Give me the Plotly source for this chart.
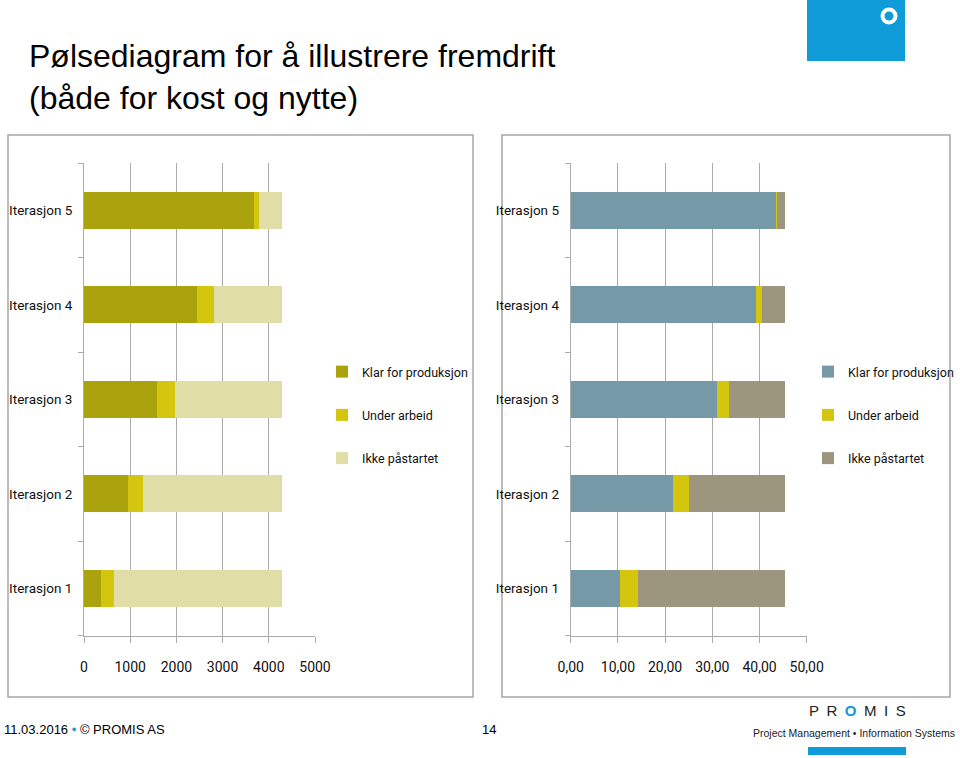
import plotly.graph_objects as go

# data
kategorier = ["Iterasjon 1", "Iterasjon 2", "Iterasjon 3", "Iterasjon 4", "Iterasjon 5"]
serier = ["Klar for produksjon", "Under arbeid", "Ikke påstartet"]

kost_klar = [368, 945, 1571, 2452, 3680]
kost_under = [282, 339, 399, 368, 100]
kost_ikke = [3640, 3006, 2320, 1470, 510]

nytte_klar = [10.4, 21.6, 31.1, 39.2, 43.5]
nytte_under = [3.9, 3.5, 2.4, 1.4, 0.3]
nytte_ikke = [31.0, 20.2, 11.8, 4.7, 1.5]

kost_ticks = [0, 1000, 2000, 3000, 4000, 5000]
nytte_ticks = [0, 10, 20, 30, 40, 50]

farger_kost = ["#ABA30E", "#D4C60E", "#E1DDA6"]
farger_nytte = ["#7699A7", "#D4C60E", "#9C967E"]

W, H = 960, 758
SMAL = "Liberation Sans Narrow, Arial Narrow, Roboto, sans-serif"
ARIAL = "Liberation Sans, Arial, sans-serif"


def px_x(v):
    return v / W


def px_y(v):
    return 1 - v / H


fig = go.Figure()

for navn, verdier, farge in zip(serier, [kost_klar, kost_under, kost_ikke], farger_kost):
    fig.add_trace(go.Bar(
        y=kategorier, x=verdier, name=navn, orientation="h",
        marker=dict(color=farge, line=dict(width=0)),
        xaxis="x", yaxis="y", legend="legend", legendgroup="k" + navn,
        width=0.39, hoverinfo="skip"))

for navn, verdier, farge in zip(serier, [nytte_klar, nytte_under, nytte_ikke], farger_nytte):
    fig.add_trace(go.Bar(
        y=kategorier, x=verdier, name=navn, orientation="h",
        marker=dict(color=farge, line=dict(width=0)),
        xaxis="x2", yaxis="y2", legend="legend2", legendgroup="n" + navn,
        width=0.39, hoverinfo="skip"))

akse_x = dict(
    showgrid=True, gridcolor="#ABABAB", gridwidth=1,
    showline=True, linecolor="#ABABAB", linewidth=1,
    ticks="outside", ticklen=6, tickcolor="#ABABAB",
    zeroline=False, tickfont=dict(family=SMAL, size=14, color="#111"),
    ticklabelstandoff=12, automargin=False, fixedrange=True)
akse_y = dict(
    type="category", range=[-0.5, 4.5], showgrid=False,
    showline=True, linecolor="#ABABAB", linewidth=1,
    ticks="outside", ticklen=5, tickcolor="#ABABAB", tickson="boundaries",
    tickfont=dict(family=SMAL, size=13.5, color="#111"),
    ticklabelstandoff=8, automargin=False, fixedrange=True)

ydom = [px_y(635.7), px_y(163)]
legende = dict(xanchor="left", yanchor="top", traceorder="grouped",
               tracegroupgap=24, bgcolor="rgba(0,0,0,0)",
               font=dict(family=SMAL, size=12.5, color="#111"))

fig.update_layout(
    template="none",
    width=W, height=H, margin=dict(l=0, r=0, t=0, b=0, autoexpand=False),
    paper_bgcolor="white", plot_bgcolor="white",
    barmode="stack", bargap=0.6, separators=",.",
    xaxis=dict(akse_x, domain=[px_x(84), px_x(315)], range=[0, 5000],
               tickvals=kost_ticks, tickformat="d", anchor="y"),
    yaxis=dict(akse_y, domain=ydom, anchor="x"),
    xaxis2=dict(akse_x, domain=[px_x(570.7), px_x(806.7)], range=[0, 50],
                tickvals=nytte_ticks, tickformat=".2f", anchor="y2"),
    yaxis2=dict(akse_y, domain=ydom, anchor="x2"),
    legend=dict(legende, x=px_x(322), y=px_y(357)),
    legend2=dict(legende, x=px_x(808), y=px_y(357)),
    showlegend=True,
)

# chart frames
for x0, x1 in [(8, 473), (502, 950)]:
    fig.add_shape(type="rect", xref="paper", yref="paper",
                  x0=px_x(x0), x1=px_x(x1), y0=px_y(697), y1=px_y(135),
                  line=dict(color="#A6A6A6", width=1.5), layer="below")

# logo at top right
blaa = "#0E9BD8"
fig.add_shape(type="rect", xref="paper", yref="paper",
              x0=px_x(807), x1=px_x(905), y0=px_y(61), y1=1,
              fillcolor=blaa, line=dict(width=0))
fig.add_shape(type="circle", xref="paper", yref="paper",
              x0=px_x(880.5), x1=px_x(897.5), y0=px_y(24.5), y1=px_y(7.5),
              fillcolor="white", line=dict(width=0))
fig.add_shape(type="circle", xref="paper", yref="paper",
              x0=px_x(884.5), x1=px_x(893.5), y0=px_y(20.5), y1=px_y(11.5),
              fillcolor=blaa, line=dict(width=0))
fig.add_shape(type="rect", xref="paper", yref="paper",
              x0=px_x(808), x1=px_x(906), y0=px_y(755), y1=px_y(747),
              fillcolor=blaa, line=dict(width=0))

# title
fig.add_annotation(xref="paper", yref="paper", x=px_x(27), y=px_y(36),
                   xanchor="left", yanchor="top", align="left", showarrow=False,
                   text="Pølsediagram for å illustrere fremdrift<br>(både for kost og nytte)",
                   font=dict(family=ARIAL, size=32, color="black"))

# footer
fig.add_annotation(xref="paper", yref="paper", x=px_x(2), y=px_y(729),
                   xanchor="left", yanchor="middle", showarrow=False,
                   text="11.03.2016 <span style='color:#0E9BD8'>•</span> © PROMIS AS",
                   font=dict(family=ARIAL, size=13, color="black"))
fig.add_annotation(xref="paper", yref="paper", x=px_x(489), y=px_y(729),
                   xanchor="center", yanchor="middle", showarrow=False,
                   text="14", font=dict(family=ARIAL, size=13, color="black"))
fig.add_annotation(xref="paper", yref="paper", x=px_x(857), y=px_y(710),
                   xanchor="center", yanchor="middle", showarrow=False,
                   text="P\u2002R\u2002<span style='color:#0E9BD8'><b>O</b></span>\u2002M\u2002I\u2002S",
                   font=dict(family=ARIAL, size=15, color="#222"))
fig.add_annotation(xref="paper", yref="paper", x=px_x(854), y=px_y(733),
                   xanchor="center", yanchor="middle", showarrow=False,
                   text="Project Management • Information Systems",
                   font=dict(family=ARIAL, size=10.5, color="#222"))

# the page's default body margin would push the figure 8px in
fig.write_html("out.html", config={"displayModeBar": False},
               post_script="document.body.style.margin = '0px';")
